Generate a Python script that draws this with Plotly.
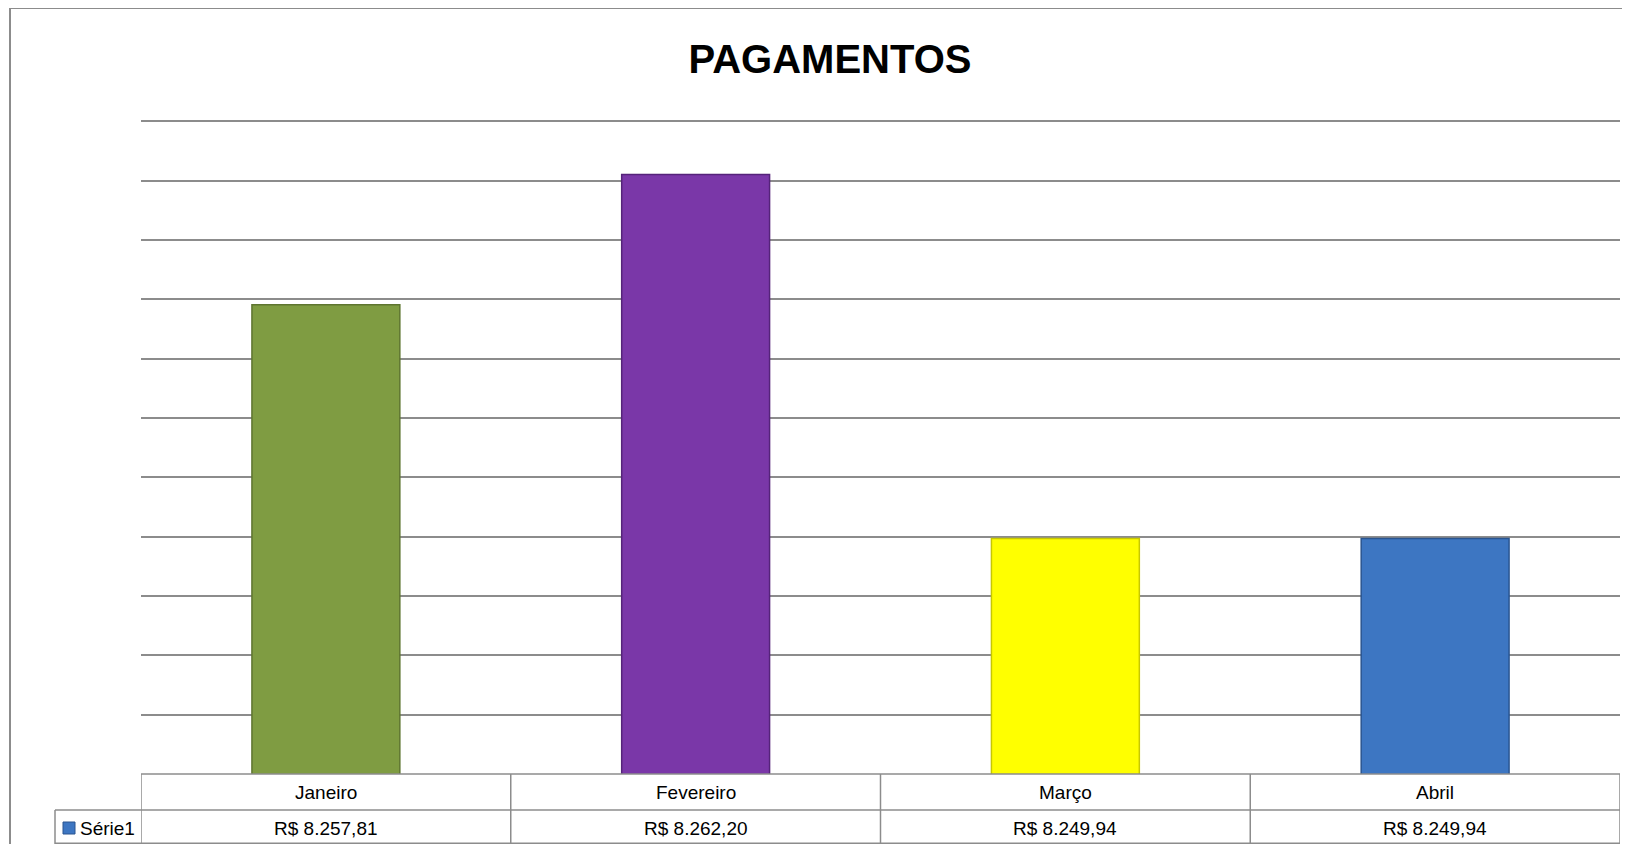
import plotly.graph_objects as go

# ---- data ----
categories = ["Janeiro", "Fevereiro", "Março", "Abril"]
values = [8257.81, 8262.20, 8249.94, 8249.94]
value_labels = ["R$ 8.257,81", "R$ 8.262,20", "R$ 8.249,94", "R$ 8.249,94"]
series_name = "Série1"
title_text = "PAGAMENTOS"

bar_colors = ["#7F9C42", "#7A37A8", "#FFFF00", "#3D76C2"]
bar_edges = ["#5E7530", "#55237A", "#C8C800", "#2A5590"]

OFF = 8  # page body margin
W, H = 1630 - 2 * OFF, 852 - 2 * OFF
# positions measured in screenshot coordinates, converted to figure coords
L = 141 - OFF
R = (1630 - 1620) - OFF
T = 120 - OFF
B = 852 - 774 - OFF
pw = W - L - R
ph = H - T - B


def px(x):
    return (x - OFF - L) / pw


def py(y):
    return (H - B - (y - OFF)) / ph


fig = go.Figure()
fig.add_trace(go.Bar(
    x=categories, y=values,
    marker=dict(color=bar_colors, line=dict(color=bar_edges, width=1.5)),
    name=series_name, showlegend=False, hoverinfo="skip",
))

font_family = "Liberation Sans, Arial, sans-serif"
grid_col = "#8C8C8C"
tbl_col = "#8C8C8C"

shapes = []
# outer chart border (left and top visible)
shapes.append(dict(type="rect", xref="paper", yref="paper",
                   x0=px(10), x1=px(1650), y0=py(880), y1=py(8),
                   line=dict(color="#8C8C8C", width=2), layer="below"))
# data table horizontal lines
for yy in [774, 810, 843.3]:
    shapes.append(dict(type="line", xref="x", yref="paper",
                       x0=-0.5, x1=3.5, y0=py(yy), y1=py(yy),
                       line=dict(color=tbl_col, width=1.5)))
# series label cell lines
for yy in [810, 843.3]:
    shapes.append(dict(type="line", xref="paper", yref="paper",
                       x0=px(55), x1=0, y0=py(yy), y1=py(yy),
                       line=dict(color=tbl_col, width=1.5)))
shapes.append(dict(type="line", xref="paper", yref="paper",
                   x0=px(55), x1=px(55), y0=py(810), y1=py(844),
                   line=dict(color=tbl_col, width=1.5)))
# vertical table lines at category boundaries
for k in range(len(categories) + 1):
    shapes.append(dict(type="line", xref="x", yref="paper",
                       x0=k - 0.5, x1=k - 0.5, y0=py(774), y1=py(844),
                       line=dict(color=tbl_col, width=1.5)))
# legend key
shapes.append(dict(type="rect", xref="paper", yref="paper",
                   x0=px(63), x1=px(75), y0=py(834), y1=py(822),
                   fillcolor="#3D76C2", line=dict(color="#2A5590", width=1)))

annotations = []
for c, lab in zip(categories, value_labels):
    annotations.append(dict(x=c, xref="x", y=py(792), yref="paper",
                            text=c, showarrow=False,
                            font=dict(family=font_family, size=19, color="#000000"),
                            xanchor="center", yanchor="middle"))
    annotations.append(dict(x=c, xref="x", y=py(828), yref="paper",
                            text=lab, showarrow=False,
                            font=dict(family=font_family, size=19, color="#000000"),
                            xanchor="center", yanchor="middle"))
annotations.append(dict(x=px(78), xref="paper", y=py(828), yref="paper",
                        text=series_name, showarrow=False,
                        font=dict(family=font_family, size=19, color="#000000"),
                        xanchor="left", yanchor="middle"))

fig.update_layout(
    width=W, height=H,
    margin=dict(l=L, r=R, t=T, b=B, pad=0),
    paper_bgcolor="white", plot_bgcolor="white",
    title=dict(text="<b>" + title_text + "</b>", x=(830 - OFF) / W, xref="container",
               y=1 - (59 - OFF) / H, yref="container", xanchor="center", yanchor="middle",
               font=dict(family=font_family, size=40, color="#000000")),
    bargap=0.6,
    xaxis=dict(range=[-0.5, 3.5], showticklabels=False, showgrid=False,
               zeroline=False, showline=False, ticks=""),
    yaxis=dict(range=[8242, 8264.04], dtick=2, tick0=8242, showticklabels=False,
               showgrid=True, gridcolor=grid_col, gridwidth=1.5,
               zeroline=False, showline=False, ticks=""),
    shapes=shapes, annotations=annotations,
)

fig.write_html("out.html")
